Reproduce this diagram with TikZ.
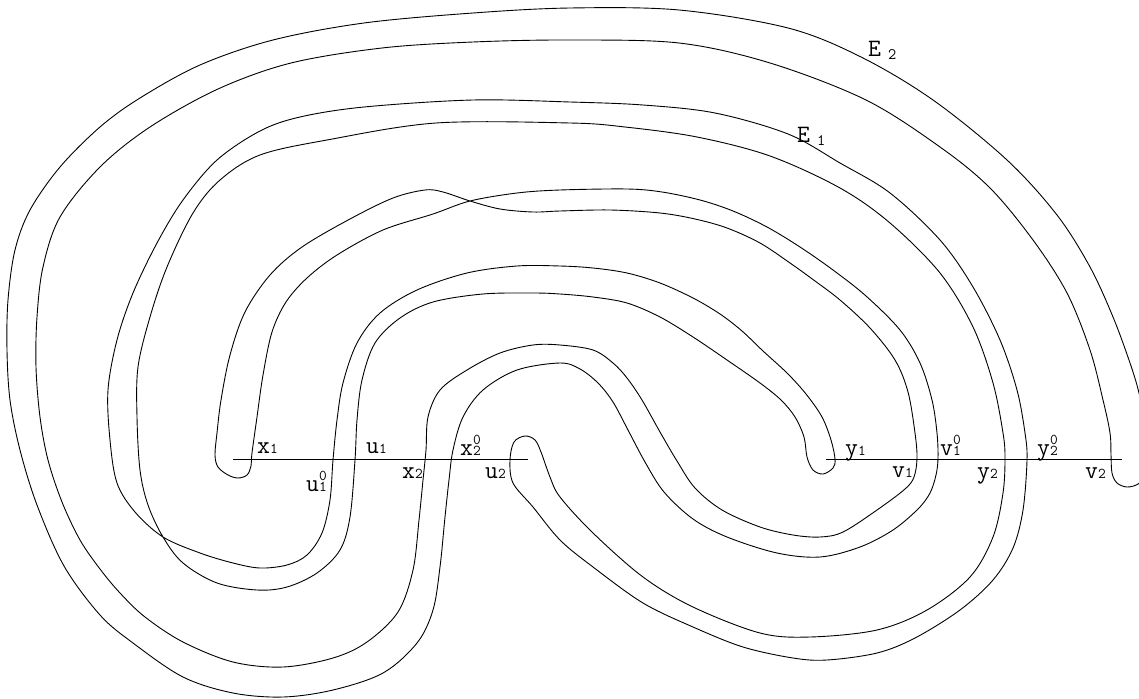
\documentclass[tikz,border=0pt]{standalone}
\usepackage{fontspec}
\newcommand\sbs[1]{{\fontsize{15}{15}\selectfont #1}}
\newcommand\sbe[1]{{\fontsize{16}{16}\selectfont #1}}
\newcommand\sbsp[2]{\rlap{\sbs{#1}}\raisebox{11pt}{\sbs{#2}}}
\begin{document}
\begin{tikzpicture}[x=1pt,y=-1pt,
  curve/.style={line width=0.9pt, black},
  seg/.style={line width=0.9pt, black},
  lab/.style={anchor=base west, inner sep=0pt, font=\ttfamily\fontsize{25}{25}\selectfont}]
\clip (0,0) rectangle (1139,698);
% band E2
\draw[curve] plot[smooth cycle, tension=0.55] coordinates {
(252,453) (257,417) (263,375) (272,332) (286,302) (307,278) (337,255) (383,230) (433,214) (470,201) (517,193) (560,190)
(627,189) (662,192) (700,200) (733,211) (767,227) (800,247) (833,270) (866,296) (900,330) (920,363) (932,400) (937,433) (938,458) (936,475) (930,493) (918,509) (893,530) (860,547) (820,557) (777,553) (727,537) (693,519) (664,492) (645,462) (628,430) (613,402) (598,383) (580,369) (560,363)
(517,370) (483,390) (463,417) (453,450) (449,480) (445,517) (440,567) (433,610) (417,643) (383,673) (333,690) (283,697) (233,693) (183,677) (133,643) (100,615) (64,566) (37,505) (20,450) (10,400) (7,350) (8,300) (15,250) (30,210) (60,167) (100,127) (140,98) (200,65) (273,40) (364,23) (473,13) (570,8) (679,10) (788,28) (861,57) (933,100) (1007,160) (1057,215) (1090,267) (1113,317) (1130,363) (1139,393) (1145,425) (1148,455) (1145,475) (1138,484) (1127,487) (1117,483) (1112,473) (1111,455) (1110,433) (1103,400) (1090,350) (1067,293) (1033,240) (990,188) (940,147) (866,100) (770,63) (679,43) (570,40) (473,42) (382,48) (291,63) (218,89) (150,127) (100,167) (60,217) (43,267) (37,317) (36,367) (40,417) (48,460) (62,502) (80,540) (100,569) (120,593) (145,617) (183,642) (233,662) (283,667) (333,658) (367,642) (398,612) (413,570) (419,520) (423,480) (426,450) (428,417) (440,390) (467,370) (500,353) (533,345) (560,345) (593,350) (613,363) (627,378) (642,400) (660,432) (677,461) (695,488) (722,510) (760,527) (793,535) (820,537) (843,532) (877,510) (905,489) (914,477) (917,458) (915,433) (908,392) (895,360) (870,328) (840,300) (815,281) (790,263) (760,243) (727,228) (695,219) (660,213) (610,210) (560,211) (533,212) (500,209) (470,201) (443,192) (425,190) (393,198) (350,219) (302,247) (270,275) (245,312) (230,355) (221,400) (217,433) (215,455) (218,467) (228,475) (238,478) (247,475) (251,466)};
% band E1
\draw[curve] plot[smooth cycle, tension=0.55] coordinates {
(510,460) (513,483) (533,507) (560,540) (593,567) (643,603) (693,627) (743,647) (793,658) (827,660) (877,653) (915,638) (960,610) (993,580) (1013,548) (1023,510) (1027,460) (1025,433) (1017,390) (1000,340) (973,287) (940,240) (890,193) (840,163) (788,134) (715,113) (643,105) (570,102) (473,100) (364,107) (300,117) (260,131) (217,160) (183,200) (157,243) (133,293) (117,340) (108,390) (110,440) (117,483) (135,512) (163,537) (200,553) (233,563) (260,568) (287,565) (307,555) (322,533) (330,500) (333,460) (337,420) (343,383) (357,343) (380,313) (417,290) (467,273) (517,266) (560,266) (593,268) (627,273) (660,283) (693,298) (720,314) (742,331) (763,351) (787,373) (806,394) (822,417) (831,440) (835,459) (833,468) (823,474) (813,470) (807,457) (804,437) (795,417) (781,400) (760,383) (727,360) (693,337) (660,317) (627,303) (593,297) (560,294) (533,293) (483,294) (433,302) (400,318) (375,343) (362,380) (357,420) (355,460) (350,517) (340,550) (317,573) (287,587) (257,590) (217,583) (183,563) (163,537) (148,505) (140,470) (137,417) (138,367) (150,317) (167,267) (193,213) (220,180) (260,155) (327,140) (436,123) (570,123) (625,127) (697,137) (770,156) (840,188) (890,223) (940,273) (973,327) (993,383) (1003,433) (1005,458) (1003,493) (993,537) (970,577) (927,610) (877,630) (810,637) (760,633) (693,607) (643,577) (593,533) (560,497) (550,477) (541,452) (535,440) (525,436) (514,442)};
% segments
\coordinate (s1a) at (233,459); \coordinate (s1b) at (528,459);
\coordinate (s2a) at (826,459); \coordinate (s2b) at (1122,459);
\draw[seg] (s1a) -- (s1b);
\draw[seg] (s2a) -- (s2b);
% labels
\node[lab] (lx1) at (257,453) {x\sbs{1}};
\node[lab] (lu1) at (366,453) {u\sbs{1}};
\node[lab] (lx20) at (460,455) {x\sbsp{2}{0}};
\node[lab] (lu10) at (306,491) {u\sbsp{1}{0}};
\node[lab] (lx2) at (402,478) {x\sbs{2}};
\node[lab] (lu2) at (485,478) {u\sbs{2}};
\node[lab] (ly1) at (845,455) {y\sbs{1}};
\node[lab] (lv1) at (892,477) {v\sbs{1}};
\node[lab] (lv10) at (940,455) {v\sbsp{1}{0}};
\node[lab] (ly2) at (977,478) {y\sbs{2}};
\node[lab] (ly20) at (1037,455) {y\sbsp{2}{0}};
\node[lab] (lv2) at (1085,478) {v\sbs{2}};
\node[lab] (lE2) at (868,57) {E\hspace{7pt}\raisebox{-3pt}{\sbe{2}}};
\node[lab] (lE1) at (797,142) {E\hspace{7pt}\raisebox{-3pt}{\sbe{1}}};
\end{tikzpicture}
\end{document}
